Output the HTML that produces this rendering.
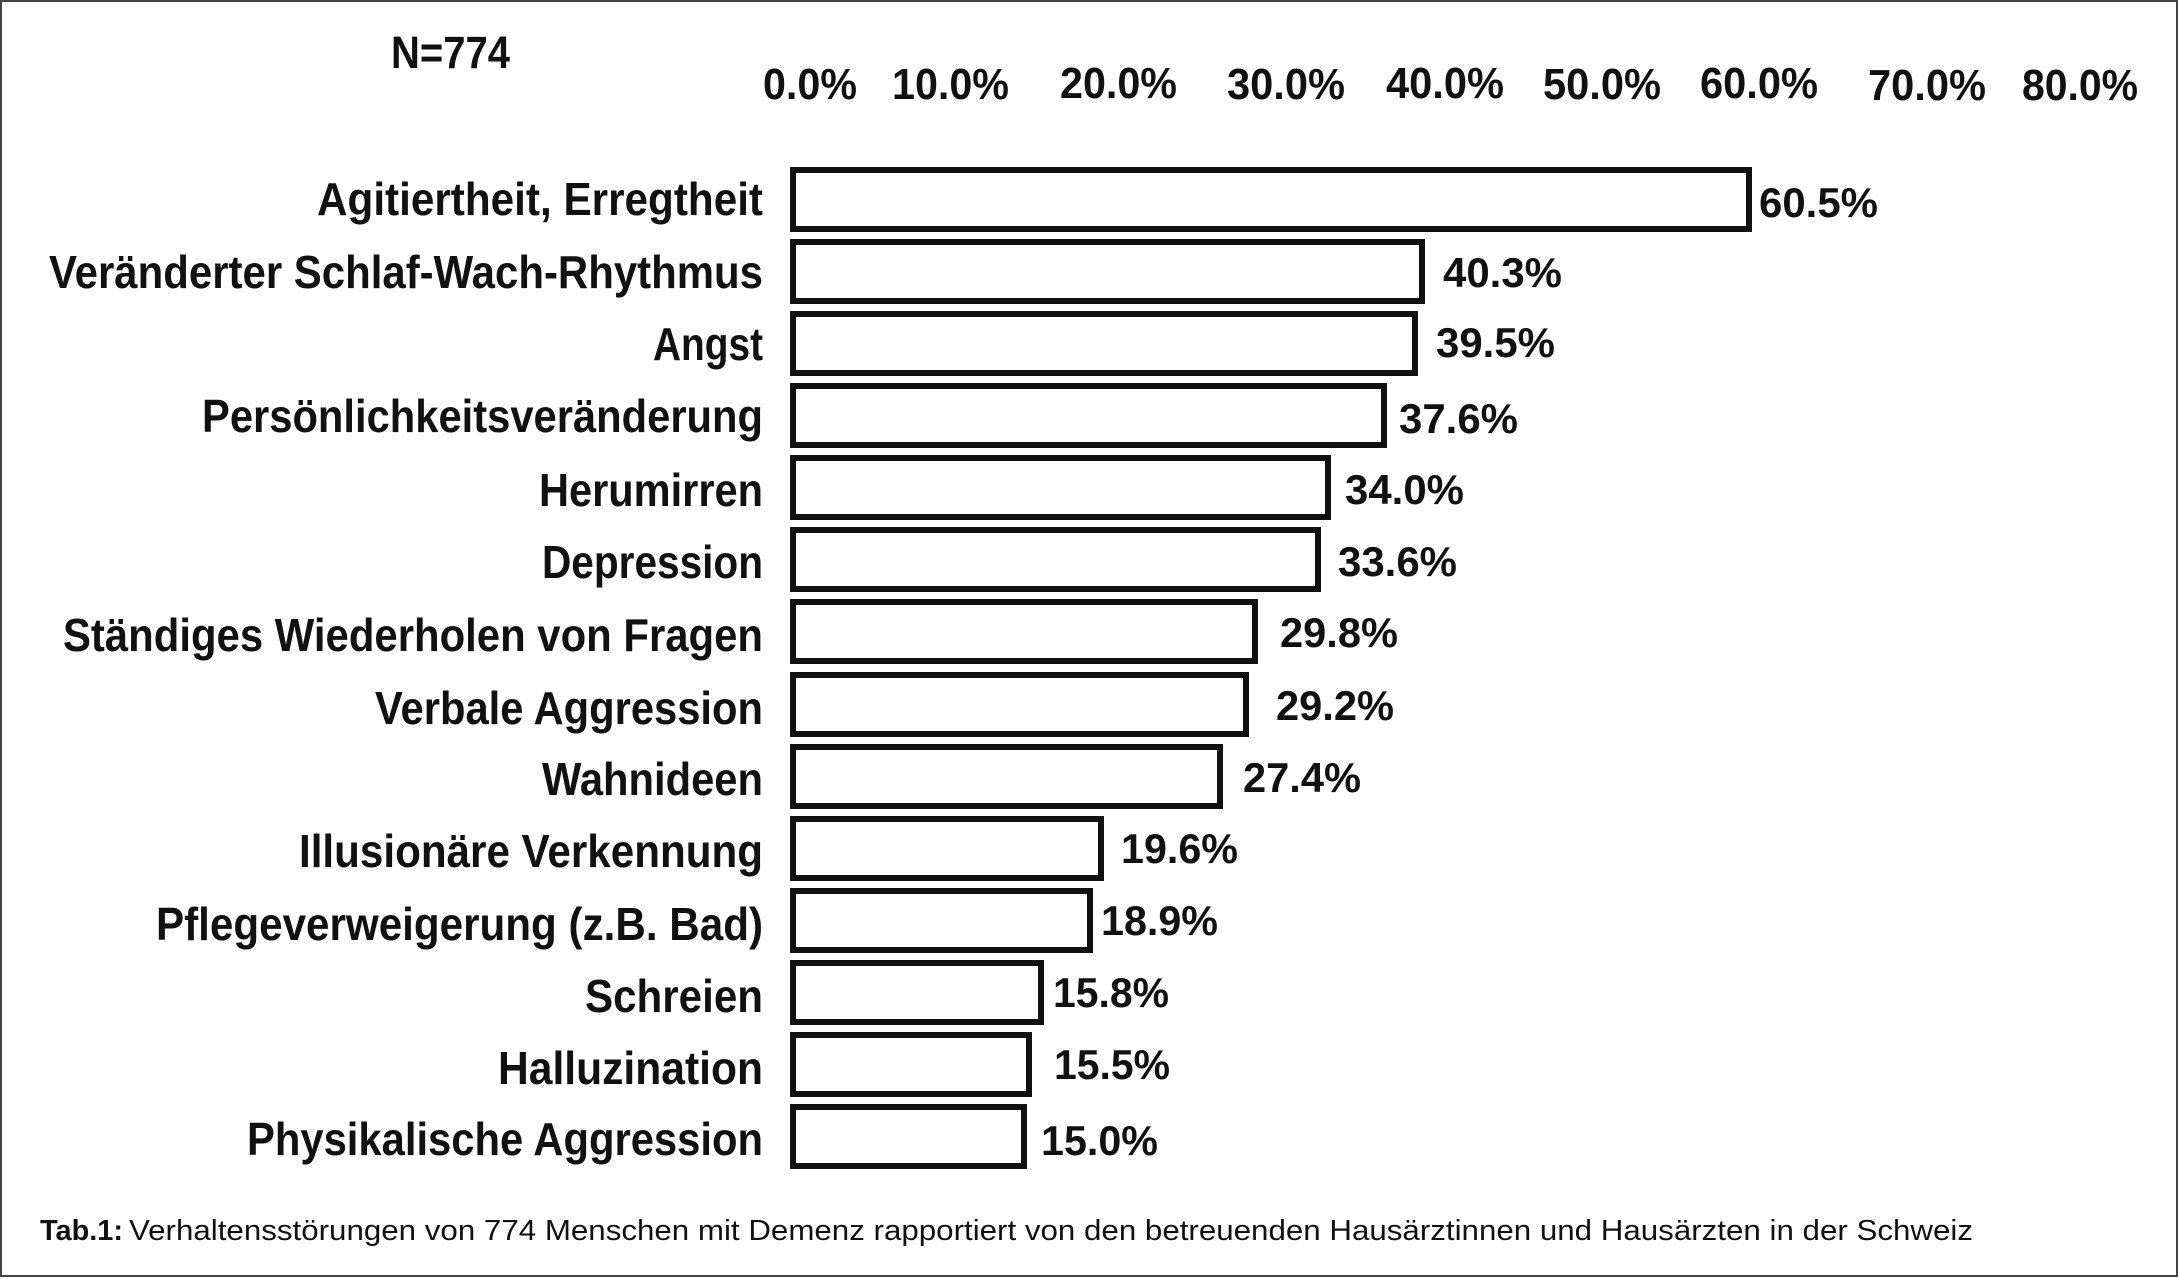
<!DOCTYPE html>
<html>
<head>
<meta charset="utf-8">
<style>
html,body{margin:0;padding:0;background:#fff;}
svg{display:block;}
text{font-family:"Liberation Sans",Arial,sans-serif;fill:#111;}
.b{font-weight:bold;}
</style>
</head>
<body>
<svg width="2179" height="1278" viewBox="0 0 2179 1278" xmlns="http://www.w3.org/2000/svg">
<rect x="0" y="0" width="2179" height="1278" fill="#fff"/>
<!-- frame -->
<rect x="1" y="1" width="2176" height="1275" fill="none" stroke="#444" stroke-width="2"/>

<!-- N -->
<text class="b" x="391" y="68" font-size="45" textLength="119" lengthAdjust="spacingAndGlyphs">N=774</text>

<!-- tick labels -->
<g class="b" font-size="44">
<text class="b" x="763" y="99" textLength="94" lengthAdjust="spacingAndGlyphs">0.0%</text>
<text class="b" x="892" y="99" textLength="117" lengthAdjust="spacingAndGlyphs">10.0%</text>
<text class="b" x="1060" y="98" textLength="117" lengthAdjust="spacingAndGlyphs">20.0%</text>
<text class="b" x="1227" y="99" textLength="118" lengthAdjust="spacingAndGlyphs">30.0%</text>
<text class="b" x="1386" y="98" textLength="118" lengthAdjust="spacingAndGlyphs">40.0%</text>
<text class="b" x="1543" y="99" textLength="118" lengthAdjust="spacingAndGlyphs">50.0%</text>
<text class="b" x="1700" y="98" textLength="118" lengthAdjust="spacingAndGlyphs">60.0%</text>
<text class="b" x="1868" y="100" textLength="118" lengthAdjust="spacingAndGlyphs">70.0%</text>
<text class="b" x="2022" y="100" textLength="116" lengthAdjust="spacingAndGlyphs">80.0%</text>
</g>

<!-- bars -->
<g fill="#fff" stroke="#111" stroke-width="6">
<rect x="793" y="170" width="956" height="59"/>
<rect x="793" y="242" width="629" height="59"/>
<rect x="793" y="314" width="622" height="59"/>
<rect x="793" y="386" width="591" height="59"/>
<rect x="793" y="458" width="535" height="59"/>
<rect x="793" y="530" width="525" height="59"/>
<rect x="793" y="602" width="462" height="59"/>
<rect x="793" y="675" width="453" height="59"/>
<rect x="793" y="747" width="427" height="59"/>
<rect x="793" y="819" width="308" height="59"/>
<rect x="793" y="891" width="297" height="59"/>
<rect x="793" y="963" width="248" height="59"/>
<rect x="793" y="1035" width="236" height="59"/>
<rect x="793" y="1107" width="231" height="59"/>
</g>

<!-- category labels -->
<g font-size="46">
<text class="b" x="763" y="215" text-anchor="end" textLength="446" lengthAdjust="spacingAndGlyphs">Agitiertheit, Erregtheit</text>
<text class="b" x="763" y="288" text-anchor="end" textLength="714" lengthAdjust="spacingAndGlyphs">Veränderter Schlaf-Wach-Rhythmus</text>
<text class="b" x="763" y="360" text-anchor="end" textLength="110" lengthAdjust="spacingAndGlyphs">Angst</text>
<text class="b" x="763" y="432" text-anchor="end" textLength="561" lengthAdjust="spacingAndGlyphs">Persönlichkeitsveränderung</text>
<text class="b" x="763" y="506" text-anchor="end" textLength="224" lengthAdjust="spacingAndGlyphs">Herumirren</text>
<text class="b" x="763" y="578" text-anchor="end" textLength="221" lengthAdjust="spacingAndGlyphs">Depression</text>
<text class="b" x="763" y="651" text-anchor="end" textLength="700" lengthAdjust="spacingAndGlyphs">Ständiges Wiederholen von Fragen</text>
<text class="b" x="763" y="724" text-anchor="end" textLength="388" lengthAdjust="spacingAndGlyphs">Verbale Aggression</text>
<text class="b" x="763" y="795" text-anchor="end" textLength="221" lengthAdjust="spacingAndGlyphs">Wahnideen</text>
<text class="b" x="763" y="867" text-anchor="end" textLength="464" lengthAdjust="spacingAndGlyphs">Illusionäre Verkennung</text>
<text class="b" x="763" y="940" text-anchor="end" textLength="607" lengthAdjust="spacingAndGlyphs">Pflegeverweigerung (z.B. Bad)</text>
<text class="b" x="763" y="1012" text-anchor="end" textLength="178" lengthAdjust="spacingAndGlyphs">Schreien</text>
<text class="b" x="763" y="1084" text-anchor="end" textLength="265" lengthAdjust="spacingAndGlyphs">Halluzination</text>
<text class="b" x="763" y="1155" text-anchor="end" textLength="516" lengthAdjust="spacingAndGlyphs">Physikalische Aggression</text>
</g>

<!-- value labels -->
<g font-size="42">
<text class="b" x="1759" y="217" textLength="119" lengthAdjust="spacingAndGlyphs">60.5%</text>
<text class="b" x="1443" y="287" textLength="119" lengthAdjust="spacingAndGlyphs">40.3%</text>
<text class="b" x="1436" y="357" textLength="119" lengthAdjust="spacingAndGlyphs">39.5%</text>
<text class="b" x="1399" y="433" textLength="119" lengthAdjust="spacingAndGlyphs">37.6%</text>
<text class="b" x="1345" y="504" textLength="119" lengthAdjust="spacingAndGlyphs">34.0%</text>
<text class="b" x="1338" y="576" textLength="119" lengthAdjust="spacingAndGlyphs">33.6%</text>
<text class="b" x="1280" y="647" textLength="118" lengthAdjust="spacingAndGlyphs">29.8%</text>
<text class="b" x="1276" y="720" textLength="118" lengthAdjust="spacingAndGlyphs">29.2%</text>
<text class="b" x="1243" y="792" textLength="118" lengthAdjust="spacingAndGlyphs">27.4%</text>
<text class="b" x="1121" y="863" textLength="117" lengthAdjust="spacingAndGlyphs">19.6%</text>
<text class="b" x="1101" y="935" textLength="117" lengthAdjust="spacingAndGlyphs">18.9%</text>
<text class="b" x="1053" y="1007" textLength="116" lengthAdjust="spacingAndGlyphs">15.8%</text>
<text class="b" x="1054" y="1079" textLength="116" lengthAdjust="spacingAndGlyphs">15.5%</text>
<text class="b" x="1041" y="1155" textLength="117" lengthAdjust="spacingAndGlyphs">15.0%</text>
</g>

<!-- caption -->
<text class="b" x="40" y="1240" font-size="29" textLength="83" lengthAdjust="spacingAndGlyphs">Tab.1:</text>
<text x="129" y="1240" font-size="29" textLength="1844" lengthAdjust="spacingAndGlyphs">Verhaltensstörungen von 774 Menschen mit Demenz rapportiert von den betreuenden Hausärztinnen und Hausärzten in der Schweiz</text>
</svg>
</body>
</html>
